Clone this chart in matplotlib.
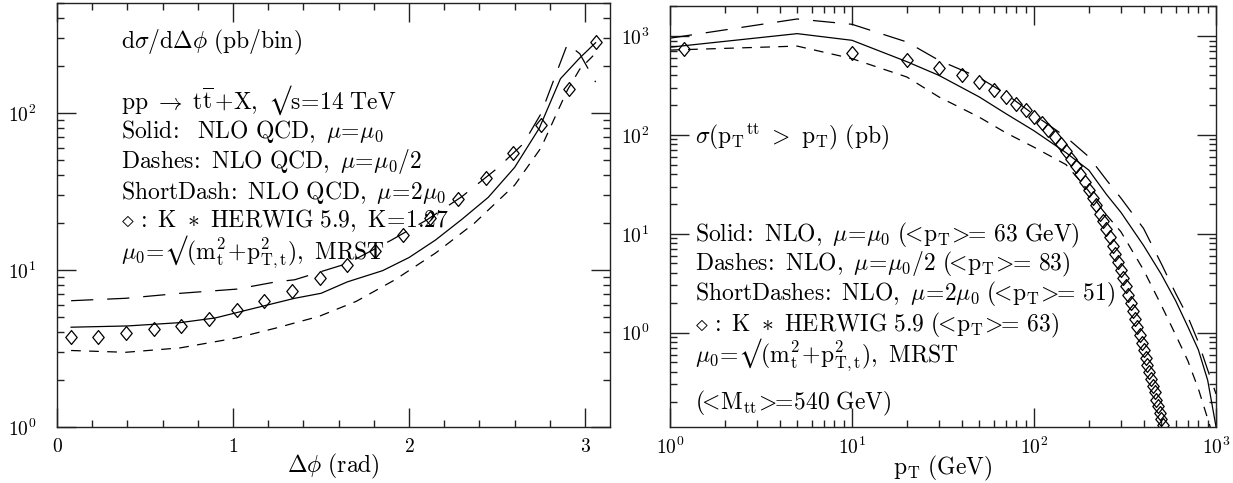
import matplotlib
matplotlib.use("Agg")
import matplotlib.pyplot as plt
from matplotlib.path import Path
from matplotlib.ticker import FixedLocator, FixedFormatter, MultipleLocator, LogLocator, NullFormatter

plt.rcParams['mathtext.fontset'] = 'cm'
plt.rcParams['lines.scale_dashes'] = False

# ===== Left panel data: d sigma / d delta phi =====
dphi_herwig = [0.0785, 0.2356, 0.3927, 0.5498, 0.7069, 0.8639, 1.0210, 1.1781, 1.3352, 1.4923,
               1.6493, 1.8064, 1.9635, 2.1206, 2.2777, 2.4347, 2.5918, 2.7489, 2.9060, 3.0631]
sig_herwig = [3.75, 3.73, 3.95, 4.21, 4.42, 4.90, 5.56, 6.31, 7.30, 8.88,
              10.8, 13.3, 16.7, 21.5, 28.2, 38.3, 55.2, 83.5, 143, 282]

dphi_nlo = [0.08, 0.4, 0.7, 0.9, 1.05, 1.2, 1.35, 1.5, 1.65, 1.85,
            2.0, 2.15, 2.3, 2.45, 2.6, 2.74, 2.86, 2.97, 3.06]
sig_mu0 = [4.32, 4.40, 4.62, 4.95, 5.45, 6.0, 6.6, 7.1, 8.4, 9.9,
           12.0, 15.5, 21, 29, 45, 80, 165, 224, 280]

dphi_half = [0.08, 0.39, 0.70, 1.02, 1.245, 1.35, 1.65, 1.9, 2.1, 2.3, 2.5, 2.65, 2.75, 2.85, 2.90, 2.97, 3.06]
sig_half = [6.37, 6.6, 7.1, 7.55, 8.4, 8.66, 11.0, 15.5, 20.8, 29.3, 44.3, 63.8, 99, 196, 275, 238, 157]

dphi_two = [0.08, 0.39, 0.7, 1.02, 1.245, 1.49, 1.70, 1.92, 2.15, 2.37, 2.6, 2.75, 2.84, 2.90, 2.97, 3.06]
sig_two = [3.07, 2.99, 3.19, 3.69, 4.27, 5.07, 6.31, 8.66, 12.8, 19.8, 34.7, 60, 100, 140, 190, 240]

# ===== Right panel data: sigma(pT^tt > pT) =====
pt_herwig = [1.2, 10, 20, 30, 40, 50, 60, 70, 80, 90, 100, 110, 120, 130, 140, 150, 160, 170, 180, 190,
             200, 210, 220, 230, 240, 250, 260, 270, 280, 290, 300, 310, 320, 330, 340, 350, 360, 370,
             380, 390, 400, 410, 420, 430, 440, 450, 460, 470, 480, 490, 500, 510]
cum_herwig = [745, 679, 577, 479, 401, 343, 287, 242, 207, 177, 151, 132, 111, 95, 80, 68, 57, 48, 40, 33,
              27.8, 23.2, 19.3, 16.0, 13.3, 11.1, 9.2, 7.6, 6.3, 5.2, 4.3, 3.55, 2.95, 2.42, 2.0, 1.66,
              1.37, 1.13, 0.95, 0.79, 0.66, 0.56, 0.47, 0.40, 0.34, 0.29, 0.25, 0.21, 0.18, 0.155, 0.135, 0.117]

pt_mu0 = [1, 5, 10, 20, 30, 50, 70, 100, 150, 200, 250, 300, 400, 500, 600, 700, 800, 900, 1000]
cum_mu0 = [770, 1056, 904, 550, 400, 242, 164, 110, 66, 44, 25, 16.5, 7.6, 3.9, 2.1, 1.15, 0.67, 0.33, 0.112]

pt_half = [1, 5, 10, 20, 30, 50, 70, 100, 150, 200, 250, 300, 400, 500, 600, 700, 800, 900, 1000]
cum_half = [950, 1486, 1312, 870, 568, 380, 260, 160, 95, 60, 35, 23, 11.3, 5.0, 2.5, 1.45, 0.8, 0.42, 0.24]

pt_two = [1, 5, 10, 20, 30, 50, 70, 100, 150, 200, 250, 300, 400, 500, 600, 700, 800, 930]
cum_two = [720, 790, 590, 385, 242, 151, 105, 75, 50, 27, 15.5, 10.5, 4.3, 1.9, 0.95, 0.52, 0.27, 0.111]

left_text = [r'$\mathrm{d}\sigma/\mathrm{d}\Delta\phi\ \mathrm{(pb/bin)}$',
             r'$\mathrm{pp}\ \rightarrow\ \mathrm{t}\overline{\mathrm{t}}\,\mathrm{+X,}\ √\mathrm{s}\!=\!\mathrm{14\ TeV}$',
             r'$\mathrm{Solid\!:\ \ NLO\ QCD,}\ \mu\!=\!\mu_0$',
             r'$\mathrm{Dashes\!:\ NLO\ QCD,}\ \mu\!=\!\mu_0/2$',
             r'$\mathrm{ShortDash\!:\ NLO\ QCD,}\ \mu\!=\!2\mu_0$',
             r'$\diamond\ \mathrm{\!:\ K}\ \ast\ \mathrm{HERWIG\ 5.9,\ K}\!=\!\mathrm{1.27}$',
             r'$\mu_0\!=\!√(\mathrm{m_t^2}\!+\!\mathrm{p_{T,t}^2}),\ \mathrm{MRST}$']
left_text_y = [0.908, 0.771, 0.698, 0.625, 0.554, 0.486, 0.413]

right_text = [r'$\sigma(\mathrm{p_T}^{\mathrm{tt}}\ >\ \mathrm{p_T})\ \mathrm{(pb)}$',
              r'$\mathrm{Solid\!:\ NLO,}\ \mu\!=\!\mu_0\ (\!\!<\!\mathrm{p_T}\!>\!\!\!=\!\ \mathrm{63\ GeV})$',
              r'$\mathrm{Dashes\!:\ NLO,}\ \mu\!=\!\mu_0/2\ (\!\!<\!\mathrm{p_T}\!>\!\!\!=\!\ \mathrm{83})$',
              r'$\mathrm{ShortDashes\!:\ NLO,}\ \mu\!=\!2\mu_0\ (\!\!<\!\mathrm{p_T}\!>\!\!\!=\!\ \mathrm{51})$',
              r'$\diamond\ \mathrm{\!:\ K}\ \ast\ \mathrm{HERWIG\ 5.9}\ (\!\!<\!\mathrm{p_T}\!>\!\!\!=\!\ \mathrm{63})$',
              r'$\mu_0\!=\!√(\mathrm{m_t^2}\!+\!\mathrm{p_{T,t}^2}),\ \mathrm{MRST}$',
              r'$(\!\!<\!\mathrm{M_{tt}}\!>\!\!\!=\!\mathrm{540\ GeV})$']
right_text_y = [0.689, 0.456, 0.385, 0.314, 0.242, 0.171, 0.057]

FS = 17
LONG = (16, 10)
SHORT = (7, 6)
DIAMOND = Path([(0, 1), (0.82, 0), (0, -1), (-0.82, 0), (0, 1)],
               [Path.MOVETO, Path.LINETO, Path.LINETO, Path.LINETO, Path.CLOSEPOLY])

fig = plt.figure(figsize=(12.33, 4.83), dpi=100)
ax1 = fig.add_axes([57/1233, 56/483, 553/1233, 424/483])
ax2 = fig.add_axes([670/1233, 56/483, 546/1233, 421/483])

for ax in (ax1, ax2):
    for s in ax.spines.values():
        s.set_linewidth(1.0)
        s.set_color('#222222')
    ax.tick_params(which='both', direction='in', top=True, right=True, color='#222222', width=1.0)
    ax.tick_params(which='major', length=14)
    ax.tick_params(which='minor', length=5)
    ax.tick_params(axis='y', which='major', pad=15, labelsize=14)
    ax.tick_params(axis='x', which='major', pad=7, labelsize=14)

# ===== Left =====
ax1.plot(dphi_nlo, sig_mu0, color='black', lw=0.9)
ax1.plot(dphi_half, sig_half, color='black', lw=0.9, dashes=LONG)
ax1.plot(dphi_two, sig_two, color='black', lw=0.9, dashes=SHORT)
ax1.plot(dphi_herwig, sig_herwig, ls='none', marker=DIAMOND, ms=10, mfc='none', mec='black', mew=0.9)
ax1.set_yscale('log')
ax1.set_xlim(0, 3.1416)
ax1.set_ylim(1, 501)
ax1.xaxis.set_major_locator(FixedLocator([0, 1, 2, 3]))
ax1.xaxis.set_major_formatter(FixedFormatter([r'$\mathsf{0}$', r'$\mathsf{1}$', r'$\mathsf{2}$', r'$\mathsf{3}$']))
ax1.xaxis.set_minor_locator(MultipleLocator(0.2))
ax1.yaxis.set_major_locator(FixedLocator([1, 10, 100]))
ax1.yaxis.set_major_formatter(FixedFormatter([r'$\mathsf{10^0}$', r'$\mathsf{10^1}$', r'$\mathsf{10^2}$']))
ax1.yaxis.set_minor_locator(LogLocator(base=10, subs=range(2, 10)))
ax1.yaxis.set_minor_formatter(NullFormatter())
ax1.set_xlabel(r'$\Delta\phi\ \mathrm{(rad)}$', fontsize=FS, labelpad=-3)
for t, y in zip(left_text, left_text_y):
    ax1.text(0.116, y, t, transform=ax1.transAxes, fontsize=FS, va='center', ha='left')

# ===== Right =====
ax2.plot(pt_mu0, cum_mu0, color='black', lw=0.9)
ax2.plot(pt_half, cum_half, color='black', lw=0.9, dashes=LONG)
ax2.plot(pt_two, cum_two, color='black', lw=0.9, dashes=SHORT)
ax2.plot(pt_herwig, cum_herwig, ls='none', marker=DIAMOND, ms=10, mfc='none', mec='black', mew=0.9)
ax2.set_xscale('log')
ax2.set_yscale('log')
ax2.set_xlim(1, 1000)
ax2.set_ylim(0.111, 2010)
ax2.xaxis.set_major_locator(FixedLocator([1, 10, 100, 1000]))
ax2.xaxis.set_major_formatter(FixedFormatter([r'$\mathsf{10^0}$', r'$\mathsf{10^1}$', r'$\mathsf{10^2}$', r'$\mathsf{10^3}$']))
ax2.xaxis.set_minor_locator(LogLocator(base=10, subs=range(2, 10)))
ax2.xaxis.set_minor_formatter(NullFormatter())
ax2.yaxis.set_major_locator(FixedLocator([1, 10, 100, 1000]))
ax2.yaxis.set_major_formatter(FixedFormatter([r'$\mathsf{10^0}$', r'$\mathsf{10^1}$', r'$\mathsf{10^2}$', r'$\mathsf{10^3}$']))
ax2.yaxis.set_minor_locator(LogLocator(base=10, subs=range(2, 10)))
ax2.yaxis.set_minor_formatter(NullFormatter())
ax2.set_xlabel(r'$\mathrm{p_T\ (GeV)}$', fontsize=FS, labelpad=-3)
for t, y in zip(right_text, right_text_y):
    ax2.text(0.046, y, t, transform=ax2.transAxes, fontsize=FS, va='center', ha='left')

fig.savefig('out.png', dpi=100)
